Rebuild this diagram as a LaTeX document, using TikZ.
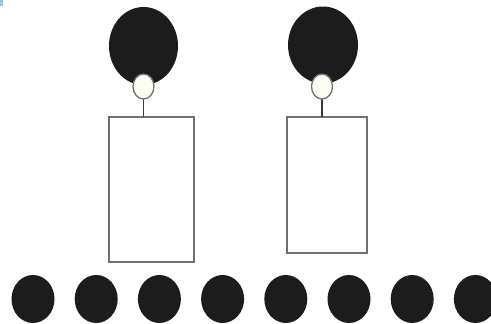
\documentclass[tikz,border=0pt]{standalone}
\usetikzlibrary{shapes.geometric}
\definecolor{blob}{HTML}{1C1C1C}
\definecolor{edge}{HTML}{707070}
\definecolor{wirec}{HTML}{3A3A3A}
\definecolor{bulb}{HTML}{FDFDF2}
\definecolor{speck}{HTML}{9CC3E6}
\begin{document}
\begin{tikzpicture}[x=1pt,y=-1pt,
  head/.style={ellipse,fill=blob,draw=none,inner sep=0pt},
  neck/.style={ellipse,fill=bulb,draw=edge,line width=1.3pt,inner sep=0pt,minimum width=21pt,minimum height=25pt},
  body/.style={rectangle,draw=edge,line width=1.3pt,fill=white,inner sep=0pt},
  dot/.style={ellipse,fill=blob,draw=none,inner sep=0pt,minimum width=43pt,minimum height=48pt},
  wire/.style={draw=wirec,line width=1.8pt}]
\useasboundingbox (0,0) rectangle (491,324);
\clip (0,0) rectangle (491,324);
\fill[fill=speck] (0,0) rectangle (3,6);
% left figure
\node[head,minimum width=69pt,minimum height=78pt] (h1) at (143.5,46) {};
\node[body,minimum width=85pt,minimum height=145pt] (b1) at (151.5,189.5) {};
\coordinate (t1) at (143.5,117);
\draw[wire] (143.5,99) -- (t1);
\node[neck] (n1) at (143.5,86.5) {};
% right figure
\node[head,minimum width=70pt,minimum height=77pt] (h2) at (323,45) {};
\node[body,minimum width=80pt,minimum height=136pt] (b2) at (327,185) {};
\coordinate (t2) at (322,117);
\draw[wire] (322,99) -- (t2);
\node[neck] (n2) at (322,86.5) {};
% row of dots
\foreach \i in {0,...,7} {
  \node[dot] (d\i) at (33+63.2*\i,299) {};
}
\end{tikzpicture}
\end{document}
